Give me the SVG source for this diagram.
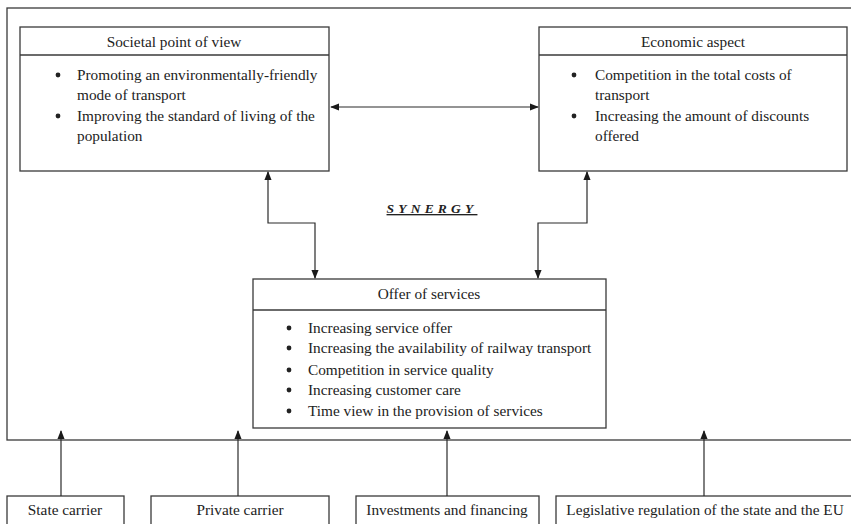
<svg xmlns="http://www.w3.org/2000/svg" width="851" height="524" viewBox="0 0 851 524">
  <style>
    .box { fill: #fff; stroke: #3a3a3a; stroke-width: 1.3; }
    .frame { fill: none; stroke: #3a3a3a; stroke-width: 1.3; }
    .sep { stroke: #3a3a3a; stroke-width: 1.3; }
    .wire { fill: none; stroke: #2a2a2a; stroke-width: 1.2; }
    text { font-family: "Liberation Serif", "Times New Roman", serif; font-size: 15.3px; fill: #222; }
    .c { text-anchor: middle; }
    .syn { font-weight: bold; font-style: italic; letter-spacing: 4.2px; text-decoration: underline; font-size: 13.5px; }
  </style>
  <defs>
    <marker id="ah" viewBox="0 0 10 10" refX="9" refY="5" markerWidth="9" markerHeight="9" markerUnits="userSpaceOnUse" orient="auto-start-reverse">
      <path d="M0,1 L10,5 L0,9 Z" fill="#1a1a1a"/>
    </marker>
  </defs>
  <rect width="851" height="524" fill="#fff"/>

  <!-- enclosing frame -->
  <rect class="frame" x="7" y="8" width="850" height="432"/>

  <g id="societal">
    <rect class="box" x="20" y="27" width="309" height="144"/>
    <line class="sep" x1="20" y1="55" x2="329" y2="55"/>
    <text class="c" x="174" y="47">Societal point of view</text>
    <circle cx="58" cy="75" r="2.4" fill="#222"/>
    <text x="77" y="80">Promoting an environmentally-friendly</text>
    <text x="77" y="100">mode of transport</text>
    <circle cx="58" cy="116" r="2.4" fill="#222"/>
    <text x="77" y="121">Improving the standard of living of the</text>
    <text x="77" y="141">population</text>
  </g>

  <g id="economic">
    <rect class="box" x="539" y="27" width="308" height="144"/>
    <line class="sep" x1="539" y1="55" x2="847" y2="55"/>
    <text class="c" x="693" y="47">Economic aspect</text>
    <circle cx="574" cy="75" r="2.4" fill="#222"/>
    <text x="595" y="80">Competition in the total costs of</text>
    <text x="595" y="100">transport</text>
    <circle cx="574" cy="116" r="2.4" fill="#222"/>
    <text x="595" y="121">Increasing the amount of discounts</text>
    <text x="595" y="141">offered</text>
  </g>

  <g id="synergy">
    <text class="c syn" x="432" y="213">SYNERGY</text>
  </g>

  <g id="offer">
    <rect class="box" x="253" y="279" width="353" height="149"/>
    <line class="sep" x1="253" y1="310" x2="606" y2="310"/>
    <text class="c" x="429" y="299">Offer of services</text>
    <circle cx="289" cy="328" r="2.4" fill="#222"/>
    <text x="308" y="333">Increasing service offer</text>
    <circle cx="289" cy="348" r="2.4" fill="#222"/>
    <text x="308" y="353">Increasing the availability of railway transport</text>
    <circle cx="289" cy="370" r="2.4" fill="#222"/>
    <text x="308" y="375">Competition in service quality</text>
    <circle cx="289" cy="390" r="2.4" fill="#222"/>
    <text x="308" y="395">Increasing customer care</text>
    <circle cx="289" cy="411" r="2.4" fill="#222"/>
    <text x="308" y="416">Time view in the provision of services</text>
  </g>

  <g id="state-carrier">
    <rect class="box" x="7" y="496" width="117" height="40"/>
    <text class="c" x="65" y="515">State carrier</text>
  </g>
  <g id="private-carrier">
    <rect class="box" x="151" y="496" width="178" height="40"/>
    <text class="c" x="240" y="515">Private carrier</text>
  </g>
  <g id="investments">
    <rect class="box" x="356" y="496" width="183" height="40"/>
    <text class="c" x="447" y="515">Investments and financing</text>
  </g>
  <g id="legislative">
    <rect class="box" x="556" y="496" width="300" height="40"/>
    <text class="c" x="705" y="515">Legislative regulation of the state and the EU</text>
  </g>

  <g id="connectors">
    <line class="wire" x1="331" y1="107" x2="538" y2="107" marker-start="url(#ah)" marker-end="url(#ah)"/>
    <polyline class="wire" points="268,172 268,223 315,223 315,278" marker-start="url(#ah)" marker-end="url(#ah)"/>
    <polyline class="wire" points="587,172 587,223 538,223 538,278" marker-start="url(#ah)" marker-end="url(#ah)"/>
    <line class="wire" x1="61" y1="496" x2="61" y2="431" marker-end="url(#ah)"/>
    <line class="wire" x1="238" y1="496" x2="238" y2="431" marker-end="url(#ah)"/>
    <line class="wire" x1="447" y1="496" x2="447" y2="431" marker-end="url(#ah)"/>
    <line class="wire" x1="704" y1="496" x2="704" y2="431" marker-end="url(#ah)"/>
  </g>
</svg>
